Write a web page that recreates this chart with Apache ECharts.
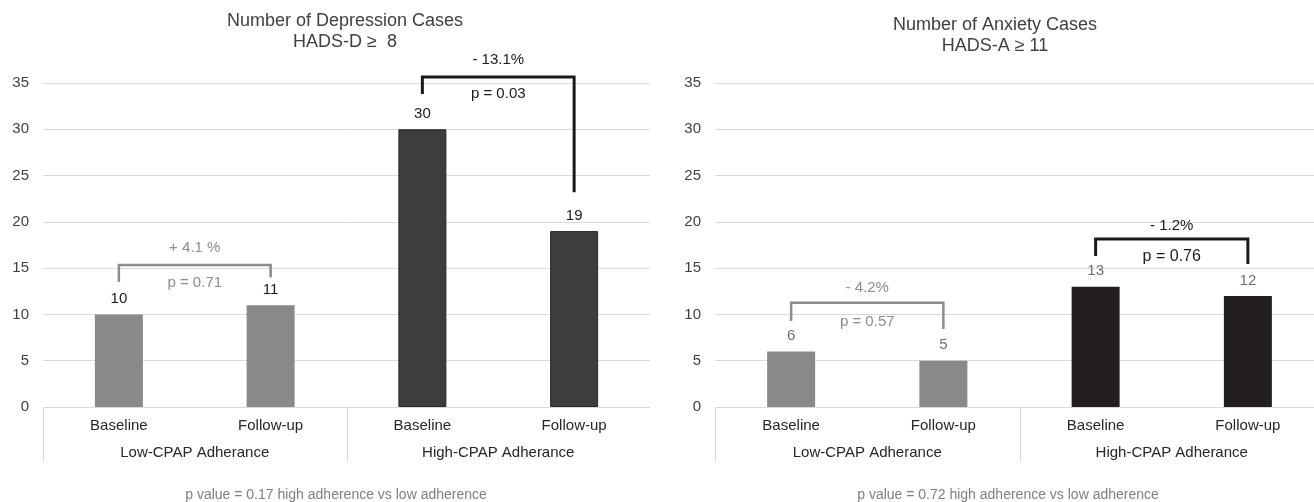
<!DOCTYPE html>
<html><head><meta charset="utf-8">
<script src="https://cdn.jsdelivr.net/npm/echarts@6/dist/echarts.min.js"></script>
<style>html,body{margin:0;padding:0;background:#fff}#c{width:1314px;height:502px}</style>
</head><body><div id="c"></div>
<script>
// ---- data ----
const categories = ['Baseline', 'Follow-up', 'Baseline', 'Follow-up'];
const groups = ['Low-CPAP Adherance', 'High-CPAP Adherance'];
const depressionCases = [10, 11, 30, 19];
const anxietyCases = [6, 5, 13, 12];
const yMin = 0, yMax = 35, yStep = 5;
const depressionTitle = 'Number of Depression Cases\nHADS-D \u2265  8';
const anxietyTitle = 'Number of Anxiety Cases\nHADS-A \u2265 11';
const depressionFooter = 'p value = 0.17 high adherence vs low adherence';
const anxietyFooter = 'p value = 0.72 high adherence vs low adherence';
// brackets: [from category, to category, top value, left leg end, right leg end]
const depressionBrackets = [[0, 1, 15.35, 13.5, 14.0], [2, 3, 35.65, 33.8, 23.2]];
const depressionChange = ['+ 4.1 %', '- 13.1%'];
const depressionChangeAt = [17.2, 37.5];
const depressionP = ['p = 0.71', 'p = 0.03'];
const depressionPAt = [13.4, 33.8];
const anxietyBrackets = [[0, 1, 11.25, 9.3, 8.43], [2, 3, 18.16, 16.3, 15.46]];
const anxietyChange = ['- 4.2%', '- 1.2%'];
const anxietyChangeAt = [12.86, 19.57];
const anxietyP = ['p = 0.57', 'p = 0.76'];
const anxietyPAt = [9.19, 16.2];

// ---- styles ----
const FONT = "'Liberation Sans', Arial, sans-serif";
const GRID_COLOR = '#d9d9d9';
const LOW_BAR = '#898989';

function barSeries(idx, values, highColor, labelColor, border) {
  return {
    type: 'bar', xAxisIndex: idx * 2, yAxisIndex: idx, barWidth: 48,
    data: values.map((v, i) => ({
      value: v,
      itemStyle: i < 2 ? { color: LOW_BAR } : { color: highColor, borderColor: border, borderWidth: border ? 1 : 0 }
    })),
    label: { show: true, position: 'top', distance: 8, fontSize: 15, fontFamily: FONT, color: labelColor },
    z: 2
  };
}

function bracketSeries(idx, brackets, changes, changeAt, ps, pAt, colors, widths, pFonts) {
  return {
    type: 'custom', xAxisIndex: idx * 2, yAxisIndex: idx, clip: false, z: 5,
    data: brackets.map((b, i) => [b[0], i]),
    encode: { x: 0 },
    renderItem: function (params, api) {
      const i = params.dataIndex;
      const b = brackets[i];
      const lb = api.coord([b[0], b[3]]);
      const lt = api.coord([b[0], b[2]]);
      const rt = api.coord([b[1], b[2]]);
      const rb = api.coord([b[1], b[4]]);
      const mx = (lt[0] + rt[0]) / 2;
      const cy = api.coord([b[0], changeAt[i]])[1];
      const py = api.coord([b[0], pAt[i]])[1];
      return {
        type: 'group',
        children: [
          { type: 'polyline', shape: { points: [lb, lt, rt, rb] }, style: { stroke: colors[i], lineWidth: widths[i], fill: null } },
          { type: 'text', x: mx, y: cy, style: { text: changes[i], fill: colors[i], font: '15px ' + FONT, align: 'center', verticalAlign: 'middle' } },
          { type: 'text', x: mx, y: py, style: { text: ps[i], fill: colors[i], font: pFonts[i] + ' ' + FONT, align: 'center', verticalAlign: 'middle' } }
        ]
      };
    }
  };
}

function separatorSeries(idx) {
  return {
    type: 'custom', xAxisIndex: idx * 2, yAxisIndex: idx, clip: false, z: 1,
    data: [[0], [2]],
    encode: { x: 0 },
    renderItem: function (params, api) {
      const c = api.coord([api.value(0), 0]);
      const half = api.size([1, 0])[0] / 2;
      const x = Math.round(c[0] - half) + 0.5;
      return { type: 'line', shape: { x1: x, y1: c[1], x2: x, y2: c[1] + 55 }, style: { stroke: GRID_COLOR, lineWidth: 1 } };
    }
  };
}

function xAxes(idx) {
  return [
    {
      type: 'category', gridIndex: idx, data: categories, position: 'bottom', z: 3,
      axisLine: { show: true, lineStyle: { color: GRID_COLOR, width: 1 } },
      axisTick: { show: false },
      axisLabel: { interval: 0, fontSize: 15, fontFamily: FONT, color: '#262626', margin: 11 }
    },
    {
      type: 'category', gridIndex: idx, data: groups, position: 'bottom', offset: 27,
      axisLine: { show: false }, axisTick: { show: false },
      axisLabel: { interval: 0, fontSize: 15, fontFamily: FONT, color: '#262626', margin: 11 }
    }
  ];
}

function yAxis(idx) {
  return {
    type: 'value', gridIndex: idx, min: yMin, max: yMax, interval: yStep,
    axisLine: { show: false }, axisTick: { show: false },
    splitLine: { lineStyle: { color: GRID_COLOR, width: 1 } },
    axisLabel: { fontSize: 15, fontFamily: FONT, color: '#404040', margin: 14 }
  };
}

const chart = echarts.init(document.getElementById('c'), null, { renderer: 'canvas' });
chart.setOption({
  animation: false,
  backgroundColor: '#ffffff',
  textStyle: { fontFamily: FONT },
  grid: [
    { left: 43, top: 83, width: 607, height: 324, outerBoundsMode: 'none', containLabel: false },
    { left: 715, top: 83, width: 609, height: 324, outerBoundsMode: 'none', containLabel: false }
  ],
  xAxis: xAxes(0).concat(xAxes(1)),
  yAxis: [yAxis(0), yAxis(1)],
  series: [
    barSeries(0, depressionCases, '#3d3d40', '#1a1a1a', '#262626'),
    barSeries(1, anxietyCases, '#231f20', '#6e6e6e', null),
    bracketSeries(0, depressionBrackets, depressionChange, depressionChangeAt, depressionP, depressionPAt,
      ['#8c8c8c', '#1a1a1a'], [2.5, 3], ['15px', '15px']),
    bracketSeries(1, anxietyBrackets, anxietyChange, anxietyChangeAt, anxietyP, anxietyPAt,
      ['#8c8c8c', '#1a1a1a'], [2.5, 3], ['15px', '16px']),
    separatorSeries(0),
    separatorSeries(1)
  ],
  graphic: [
    { type: 'text', x: 345, y: 31.5, style: { text: depressionTitle, fill: '#404040', font: '18px ' + FONT, lineHeight: 21, align: 'center', verticalAlign: 'middle' } },
    { type: 'text', x: 995, y: 36, style: { text: anxietyTitle, fill: '#404040', font: '18px ' + FONT, lineHeight: 21, align: 'center', verticalAlign: 'middle' } },
    { type: 'text', x: 336, y: 495, style: { text: depressionFooter, fill: '#7f7f7f', font: '14px ' + FONT, align: 'center', verticalAlign: 'middle' } },
    { type: 'text', x: 1008, y: 495, style: { text: anxietyFooter, fill: '#7f7f7f', font: '14px ' + FONT, align: 'center', verticalAlign: 'middle' } }
  ]
});
</script>
</body></html>
